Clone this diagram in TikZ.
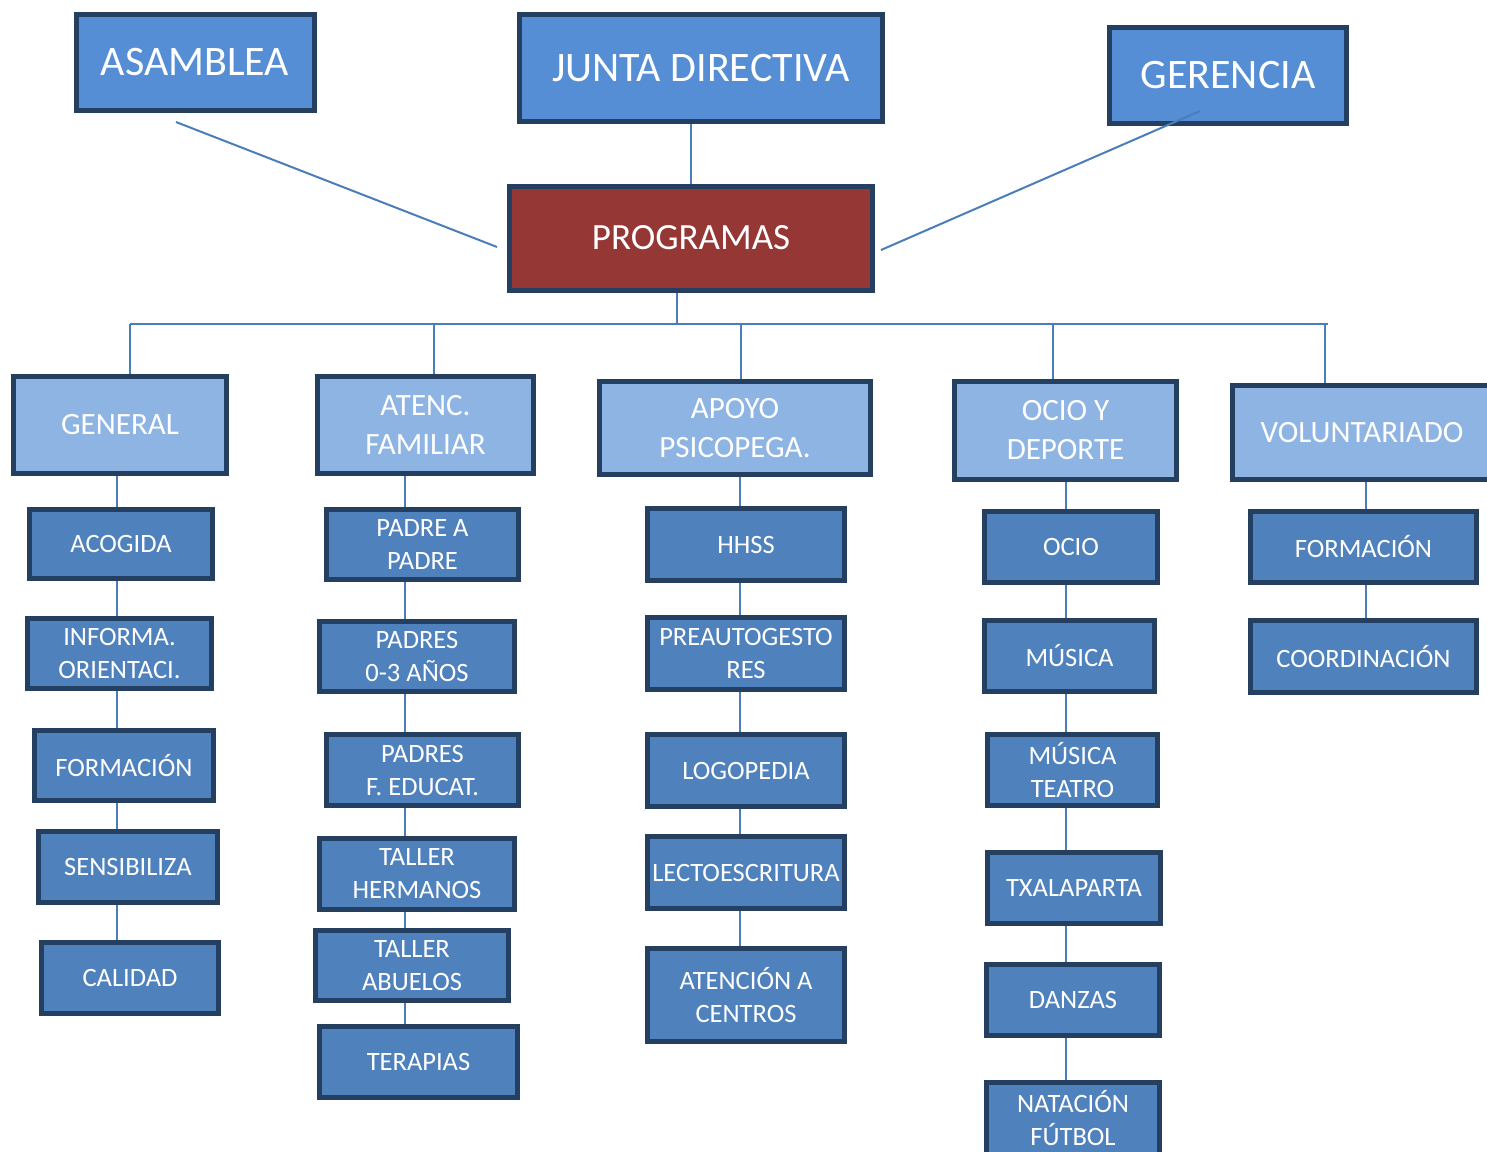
\documentclass[tikz,border=0pt]{standalone}
\usepackage{fontspec}
\setmainfont{Carlito}
\definecolor{boxline}{HTML}{243F60}
\definecolor{topblue}{HTML}{558ED5}
\definecolor{progred}{HTML}{953735}
\definecolor{areablue}{HTML}{8EB4E3}
\definecolor{itemblue}{HTML}{4F81BD}
\definecolor{linkblue}{HTML}{4A7EBB}
\tikzset{
	box/.style={draw=boxline, line width=2.5pt, text=white, align=center, inner sep=1pt},
	boxsize/.style 2 args={minimum width=#1, minimum height=#2},
	topbox/.style={box, fill=topblue, font=\fontsize{21}{25}\selectfont},
	progbox/.style={box, fill=progred, font=\fontsize{18.5}{22}\selectfont},
	areabox/.style={box, fill=areablue, font=\fontsize{15.5}{19.5}\selectfont},
	itembox/.style={box, fill=itemblue, font=\fontsize{13.25}{16.5}\selectfont},
	link/.style={draw=linkblue, line width=1pt}
}

\begin{document}
\begin{tikzpicture}[x=0.5pt, y=-0.5pt]
				\useasboundingbox (0, 0) rectangle (1487, 1151);
				
				% cabecera
				\node[topbox, boxsize={119pt}{48pt}] (asam) at (195, 62) {ASAMBLEA};
				\node[topbox, boxsize={181.5pt}{53.5pt}] (junta) at (701, 68) {JUNTA DIRECTIVA};
				\node[topbox, boxsize={118.5pt}{48pt}] (ger) at (1228, 75) {GERENCIA};
				\node[progbox, boxsize={181.5pt}{52pt}] (prog) at (691, 238) {PROGRAMAS};
				
				% areas
				\node[areabox, boxsize={106.5pt}{48.5pt}] (gen) at (120, 425) {GENERAL};
				\node[areabox, boxsize={108pt}{48.5pt}] (fam) at (425.5, 425) {ATENC.\\FAMILIAR};
				\node[areabox, boxsize={135.5pt}{46.5pt}] (apo) at (735, 428) {APOYO\\PSICOPEGA.};
				\node[areabox, boxsize={111pt}{49pt}] (oci) at (1065.5, 430.5) {OCIO Y\\DEPORTE};
				\node[areabox, boxsize={129.5pt}{47pt}] (vol) at (1362, 432.5) {VOLUNTARIADO};
				
				% general
				\node[itembox, boxsize={91.5pt}{34.5pt}] (acog) at (121, 544) {ACOGIDA};
				\node[itembox, boxsize={92pt}{35pt}] (info) at (119.5, 653.5) {INFORMA.\\ORIENTACI.};
				\node[itembox, boxsize={89.5pt}{35pt}] (form) at (124, 765.5) {FORMACIÓN};
				\node[itembox, boxsize={89.5pt}{35.5pt}] (sens) at (128, 867) {SENSIBILIZA};
				\node[itembox, boxsize={88.5pt}{35.5pt}] (cali) at (130, 978) {CALIDAD};
				
				% atenc. familiar
				\node[itembox, boxsize={96pt}{35pt}] (pap) at (422.5, 544.5) {PADRE A\\PADRE};
				\node[itembox, boxsize={97.5pt}{35pt}] (p03) at (417, 656.5) {PADRES\\0-3 AÑOS};
				\node[itembox, boxsize={96pt}{35.5pt}] (pfe) at (422.5, 770) {PADRES\\F. EDUCAT.};
				\node[itembox, boxsize={97.5pt}{35.5pt}] (ther) at (417, 874) {TALLER\\HERMANOS};
				\node[itembox, boxsize={96.5pt}{35pt}] (tabu) at (412, 965.5) {TALLER\\ABUELOS};
				\node[itembox, boxsize={99pt}{35.5pt}] (tera) at (418.5, 1062) {TERAPIAS};
				
				% apoyo psicopega.
				\node[itembox, boxsize={98.5pt}{36pt}] (hhss) at (746, 544.5) {HHSS};
				\node[itembox, boxsize={98.5pt}{36pt}] (preau) at (746, 653.5) {PREAUTOGESTO\\RES};
				\node[itembox, boxsize={98.5pt}{36pt}] (logo) at (746, 770.5) {LOGOPEDIA};
				\node[itembox, boxsize={98.5pt}{36pt}] (lecto) at (746, 872.5) {LECTOESCRITURA};
				\node[itembox, boxsize={98.5pt}{46.5pt}] (acen) at (746, 995) {ATENCIÓN A\\CENTROS};
				
				% ocio y deporte
				\node[itembox, boxsize={86.5pt}{35.5pt}] (ocio) at (1071, 547) {OCIO};
				\node[itembox, boxsize={85pt}{35.5pt}] (musi) at (1069.5, 656) {MÚSICA};
				\node[itembox, boxsize={85pt}{35.5pt}] (mute) at (1072.5, 770) {MÚSICA\\TEATRO};
				\node[itembox, boxsize={86.5pt}{35.5pt}] (txal) at (1074, 888) {TXALAPARTA};
				\node[itembox, boxsize={86.5pt}{35.5pt}] (danz) at (1073, 1000) {DANZAS};
				\node[itembox, boxsize={86.5pt}{36pt}] (nata) at (1073, 1118) {NATACIÓN\\FÚTBOL};
				
				% voluntariado
				\node[itembox, boxsize={113pt}{35.5pt}] (vform) at (1363.5, 547) {FORMACIÓN};
				\node[itembox, boxsize={113pt}{36pt}] (coord) at (1363.5, 656.5) {COORDINACIÓN};
				
				% lineas de cabecera
				\coordinate (a1) at (176, 122);
				\coordinate (a2) at (497, 247);
				\coordinate (g1) at (1200, 111);
				\coordinate (g2) at (881, 250);
				\coordinate (jdrop) at (691, 0);
				\draw[link] (a1) -- (a2);
				\draw[link] (g1) -- (g2);
				\draw[link] (junta.south -| jdrop) -- (prog.north -| jdrop);
				
				% barra de programas
				\coordinate (pdrop) at (677, 324);
				\coordinate (b1) at (130, 324);
				\coordinate (b2) at (434, 324);
				\coordinate (b3) at (741, 324);
				\coordinate (b4) at (1053, 324);
				\coordinate (b5) at (1325, 324);
				\coordinate (bend) at (1328, 324);
				\draw[link] (prog.south -| pdrop) -- (pdrop);
				\draw[link] (b1) -- (bend);
				\draw[link] (b1) -- (b1 |- gen.north);
				\draw[link] (b2) -- (b2 |- fam.north);
				\draw[link] (b3) -- (b3 |- apo.north);
				\draw[link] (b4) -- (b4 |- oci.north);
				\draw[link] (b5) -- (b5 |- vol.north);
				
				% columnas
				\coordinate (c1) at (117, 0);
				\coordinate (c2) at (405, 0);
				\coordinate (c3) at (740, 0);
				\coordinate (c4) at (1066, 0);
				\coordinate (c5) at (1366, 0);
				
				\draw[link] (gen.south -| c1) -- (acog.north -| c1);
				\draw[link] (acog.south -| c1) -- (info.north -| c1);
				\draw[link] (info.south -| c1) -- (form.north -| c1);
				\draw[link] (form.south -| c1) -- (sens.north -| c1);
				\draw[link] (sens.south -| c1) -- (cali.north -| c1);
				
				\draw[link] (fam.south -| c2) -- (pap.north -| c2);
				\draw[link] (pap.south -| c2) -- (p03.north -| c2);
				\draw[link] (p03.south -| c2) -- (pfe.north -| c2);
				\draw[link] (pfe.south -| c2) -- (ther.north -| c2);
				\draw[link] (ther.south -| c2) -- (tabu.north -| c2);
				\draw[link] (tabu.south -| c2) -- (tera.north -| c2);
				
				\draw[link] (apo.south -| c3) -- (hhss.north -| c3);
				\draw[link] (hhss.south -| c3) -- (preau.north -| c3);
				\draw[link] (preau.south -| c3) -- (logo.north -| c3);
				\draw[link] (logo.south -| c3) -- (lecto.north -| c3);
				\draw[link] (lecto.south -| c3) -- (acen.north -| c3);
				
				\draw[link] (oci.south -| c4) -- (ocio.north -| c4);
				\draw[link] (ocio.south -| c4) -- (musi.north -| c4);
				\draw[link] (musi.south -| c4) -- (mute.north -| c4);
				\draw[link] (mute.south -| c4) -- (txal.north -| c4);
				\draw[link] (txal.south -| c4) -- (danz.north -| c4);
				\draw[link] (danz.south -| c4) -- (nata.north -| c4);
				
				\draw[link] (vol.south -| c5) -- (vform.north -| c5);
				\draw[link] (vform.south -| c5) -- (coord.north -| c5);
			\end{tikzpicture}
\end{document}
